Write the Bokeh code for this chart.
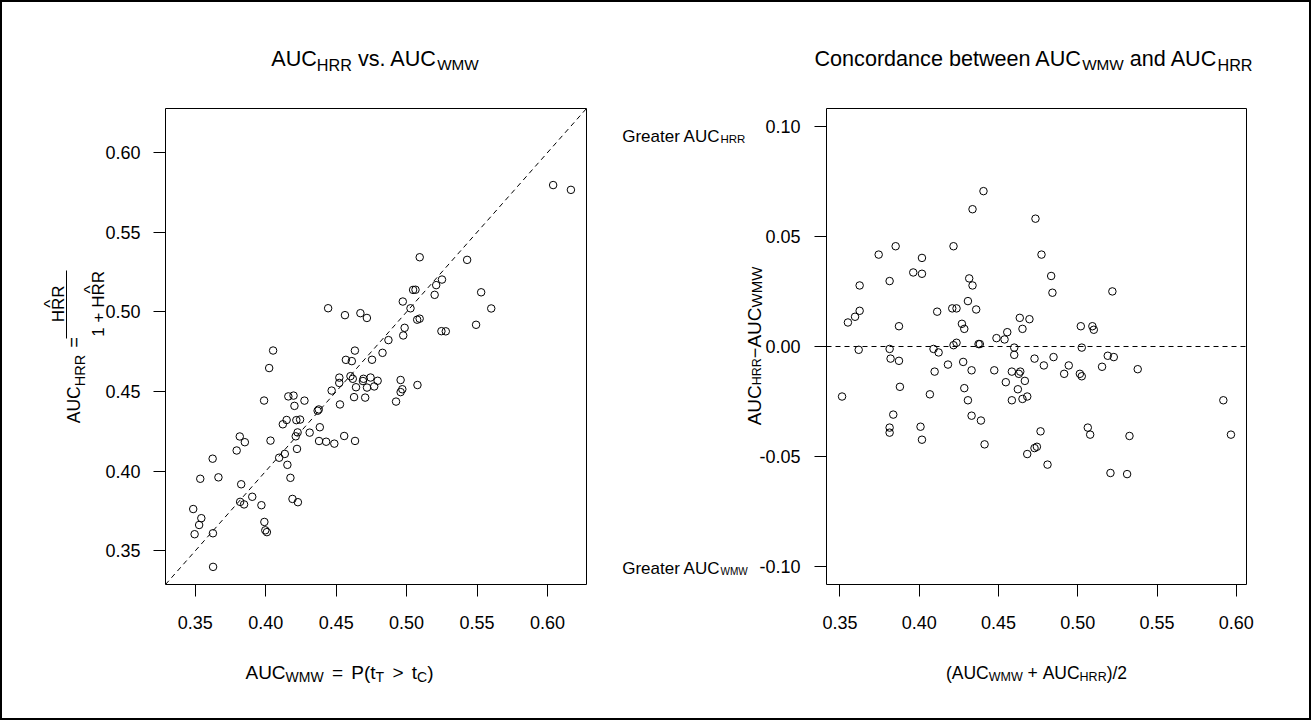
import math
import numpy as np
from bokeh.plotting import figure
from bokeh.models import Slope, Span, FixedTicker, PrintfTickFormatter, ColumnDataSource
from bokeh.core.properties import value
from bokeh.layouts import row
from bokeh.embed import file_html
from bokeh.resources import INLINE

FONT = "Liberation Sans"

# ---- data: per-study (mean of the two AUCs, AUC_HRR - AUC_WMW)
pair_mean = [0.4405, 0.4336, 0.4733, 0.3851, 0.4216, 0.3744, 0.4771, 0.4017, 0.3962, 0.4017,
             0.4832, 0.4315, 0.3813, 0.3624, 0.4336, 0.4840, 0.5218, 0.4307, 0.4359, 0.4208,
             0.4235, 0.4113, 0.3624, 0.3595, 0.3550, 0.4634, 0.4695, 0.4269, 0.4284, 0.3872,
             0.4651, 0.4555, 0.5019, 0.5092, 0.5101, 0.4487, 0.4538, 0.4235, 0.4216, 0.4374,
             0.4382, 0.4599, 0.5025, 0.3813, 0.3618, 0.4090, 0.4122, 0.4599, 0.3819, 0.3872,
             0.4727, 0.4847, 0.5189, 0.5227, 0.4277, 0.4181, 0.4786, 0.4943, 0.5153, 0.5378,
             0.4097, 0.4330, 0.4473, 0.4584, 0.4637, 0.4628, 0.4914, 0.5013, 0.5025, 0.4666,
             0.4546, 0.3878, 0.4284, 0.4622, 0.3513, 0.4067, 0.4681, 0.4651, 0.4584, 0.4307,
             0.5918, 0.3836, 0.4330, 0.4389, 0.3813, 0.3813, 0.4008, 0.4017, 0.4412, 0.4765,
             0.5063, 0.5078, 0.5326, 0.5966, 0.4681, 0.4727, 0.4742, 0.4809, 0.5206, 0.5311]
pair_diff = [0.0705, 0.0623, 0.0580, 0.0455, 0.0455, 0.0417, 0.0417, 0.0402, 0.0336, 0.0330,
             0.0320, 0.0309, 0.0297, 0.0277, 0.0277, 0.0244, 0.0250, 0.0206, 0.0168, 0.0173,
             0.0173, 0.0158, 0.0162, 0.0135, 0.0109, 0.0130, 0.0124, 0.0103, 0.0080, 0.0092,
             0.0080, 0.0065, 0.0092, 0.0092, 0.0076, 0.0038, 0.0032, 0.0017, 0.0006, 0.0011,
             0.0011, -0.0005, -0.0005, -0.0011, -0.0015, -0.0011, -0.0027, -0.0038, -0.0055, -0.0065,
             -0.0055, -0.0048, -0.0042, -0.0048, -0.0070, -0.0082, -0.0086, -0.0086, -0.0092, -0.0103,
             -0.0114, -0.0108, -0.0108, -0.0114, -0.0114, -0.0124, -0.0124, -0.0124, -0.0135, -0.0156,
             -0.0162, -0.0183, -0.0189, -0.0194, -0.0227, -0.0217, -0.0227, -0.0238, -0.0244, -0.0244,
             -0.0244, -0.0309, -0.0314, -0.0336, -0.0368, -0.0391, -0.0364, -0.0423, -0.0444, -0.0385,
             -0.0368, -0.0400, -0.0406, -0.0400, -0.0488, -0.0461, -0.0455, -0.0536, -0.0574, -0.0579]

auc_ticks = [0.35, 0.40, 0.45, 0.50, 0.55, 0.60]
diff_ticks = [-0.10, -0.05, 0.00, 0.05, 0.10]

mean = np.array(pair_mean)
diff = np.array(pair_diff)
auc_wmw = mean - diff / 2.0
auc_hrr = mean + diff / 2.0


def padded(lo, hi, f=0.04):
    s = (hi - lo) * f
    return (float(lo - s), float(hi + s))


lim1 = padded(min(auc_wmw.min(), auc_hrr.min()), max(auc_wmw.max(), auc_hrr.max()))
xlim2 = padded(mean.min(), mean.max())
ylim2 = padded(min(diff_ticks), max(diff_ticks))

# Helvetica/Arial advance widths (1/1000 em)
CW = {' ': 278, '(': 333, ')': 333, '+': 584, '.': 278, '/': 278, '=': 584, '>': 584, '^': 469,
      '\u2212': 584, 'A': 667, 'C': 722, 'G': 778, 'H': 722, 'M': 833, 'P': 667, 'R': 722,
      'T': 611, 'U': 722, 'W': 944, 'a': 556, 'b': 556, 'c': 500, 'd': 556, 'e': 556, 'n': 556,
      'o': 556, 'r': 333, 's': 500, 't': 278, 'v': 500, 'w': 722}


def tw(text, size):
    if text is None:
        return size
    return sum(CW.get(ch, 556) for ch in text) * size / 1000.0


FH = 476


def make_fig(xr, yr, fw, bl, br, yticks, ystand):
    p = figure(x_range=xr, y_range=yr, frame_width=fw, frame_height=FH,
               min_border_left=bl, min_border_right=br, min_border_top=106, min_border_bottom=134,
               output_backend="svg", toolbar_location=None)
    p.grid.visible = False
    p.outline_line_color = "black"
    p.outline_line_width = 1
    p.outline_line_alpha = 1
    p.background_fill_color = "white"
    p.border_fill_color = "white"
    for ax, ticks, st in ((p.xaxis[0], auc_ticks, 19), (p.yaxis[0], yticks, ystand)):
        ax.ticker = FixedTicker(ticks=ticks)
        ax.formatter = PrintfTickFormatter(format="%.2f")
        ax.axis_line_color = None
        ax.major_tick_out = 12
        ax.major_tick_in = 0
        ax.major_tick_line_color = "black"
        ax.minor_tick_line_color = None
        ax.major_label_text_font = FONT
        ax.major_label_text_font_size = "18px"
        ax.major_label_text_color = "black"
        ax.major_label_standoff = st
    return p


# ---- scatter panels (page geometry: 2 px outer border)
p1 = make_fig(lim1, lim1, 421, 163, 24, auc_ticks, 13)
p1.scatter(auc_wmw, auc_hrr, marker="circle", size=7.5, fill_color=None, line_color="black", line_width=1)
p1.add_layout(Slope(gradient=1, y_intercept=0, line_color="black", line_width=1, line_dash="5 4"))

p2 = make_fig(xlim2, ylim2, 420, 216, 63, diff_ticks, 14)
p2.scatter(mean, diff, marker="circle", size=7.5, fill_color=None, line_color="black", line_width=1)
p2.add_layout(Span(location=0, dimension="width", line_color="black", line_width=1, line_dash="5 4"))

G1 = dict(p=p1, FL=165, FB=584, FW=421, xr=lim1, yr=lim1, rows=[], seg=[])
G2 = dict(p=p2, FL=826, FB=584, FW=420, xr=xlim2, yr=ylim2, rows=[], seg=[])


def to_data(G, px, py):
    x0, x1 = G["xr"]
    y0, y1 = G["yr"]
    return (x0 + (px - G["FL"]) / G["FW"] * (x1 - x0), y0 + (G["FB"] - py) / FH * (y1 - y0))


def place(G, pieces, x, y, anchor="left", rotated=False):
    # a piece is (text, font_px, subscript_drop); text None means a blank gap of font_px pixels
    widths = [tw(t, s) for t, s, _ in pieces]
    total = sum(widths)
    if rotated:
        pos = y + total / 2 if anchor == "center" else y
    else:
        pos = x - total / 2 if anchor == "center" else x
    for (t, s, drop), w in zip(pieces, widths):
        if t is None:
            pos = pos - w if rotated else pos + w
            continue
        core = t.strip(" ")
        lead = tw(t[:len(t) - len(t.lstrip(" "))], s)
        if rotated:
            px, py = x + drop, pos - lead
            pos -= w
        else:
            px, py = pos + lead, y + drop
            pos += w
        dx, dy = to_data(G, px, py)
        G["rows"].append((dx, dy, core, f"{s}px", math.pi / 2 if rotated else 0.0))


def render_text(G):
    xs, ys, txt, sz, ang = zip(*G["rows"])
    src = ColumnDataSource(dict(x=list(xs), y=list(ys), text=list(txt), size=list(sz), angle=list(ang)))
    G["p"].text(x="x", y="y", text="text", text_font_size="size", angle="angle", source=src,
                text_font=value(FONT), text_align="left", text_baseline="alphabetic",
                text_color="black", level="overlay")
    for (xa, ya, xb, yb) in G["seg"]:
        a = to_data(G, xa, ya)
        b = to_data(G, xb, yb)
        G["p"].segment(x0=[a[0]], y0=[a[1]], x1=[b[0]], y1=[b[1]], line_color="black",
                       line_width=1, level="overlay")


# titles
place(G1, [("AUC", 21.6, 0), ("HRR", 16.2, 6.6), (" vs. AUC", 21.6, 0), ("WMW", 15.3, 6.6)],
      374.5, 57.7, anchor="center")
place(G2, [("Concordance between AUC", 21.6, 0), ("WMW", 15.3, 6.6), (" and AUC", 21.6, 0),
           ("HRR", 16.2, 6.6)], 1033, 57.7, anchor="center")
# x titles
place(G1, [("AUC", 19, 0), ("WMW", 14, 4.5), (None, 3, 0), (" = ", 19, 0), (None, 3, 0), ("P(", 19, 0),
           ("t", 19, 0), ("T", 14, 4.5), (None, 3, 0), (" > ", 19, 0), (None, 3, 0), ("t", 19, 0),
           ("C", 14, 4.5), (")", 19, 0)], 339, 672, anchor="center")
place(G2, [("(", 17.5, 0), ("AUC", 17.5, 0), ("WMW", 12.5, 4.5), (" + ", 17.5, 0), ("AUC", 17.5, 0),
           ("HRR", 12.5, 4.5), (")/2", 17.5, 0)], 1036, 672, anchor="center")
# left y title: AUC_HRR = HRR^ / (1 + HRR^)
place(G1, [("AUC", 17.5, 0), ("HRR", 14.5, 5.7)], 73.3, 422.7, rotated=True)
place(G1, [("=", 18, 0)], 73.3, 347, rotated=True)
place(G1, [("HRR", 17, 0)], 58, 303.3, anchor="center", rotated=True)
place(G1, [("^", 17, 0)], 49.8, 303.3, anchor="center", rotated=True)
place(G1, [("1 + HRR", 17, 0)], 98.0, 303.3, anchor="center", rotated=True)
place(G1, [("^", 17, 0)], 89.8, 289.0, anchor="center", rotated=True)
G1["seg"].append((66, 270, 66, 338))
# right y title + side notes
place(G2, [("AUC", 19, 0), ("HRR", 12.5, 2.5), ("\u2212", 18, 0), ("AUC", 19, 0), ("WMW", 15, 2.5)],
      753.5, 345.5, anchor="center", rotated=True)
place(G2, [("Greater AUC", 17, 0), ("HRR", 11.5, 2.3)], 621.7, 136)
place(G2, [("Greater AUC", 17, 0), ("WMW", 10, 2.3)], 621.7, 568.3)

render_text(G1)
render_text(G2)

layout = row(p1, p2, styles={"border": "2px solid black"})

open("out.html", "w").write(file_html(layout, INLINE))
